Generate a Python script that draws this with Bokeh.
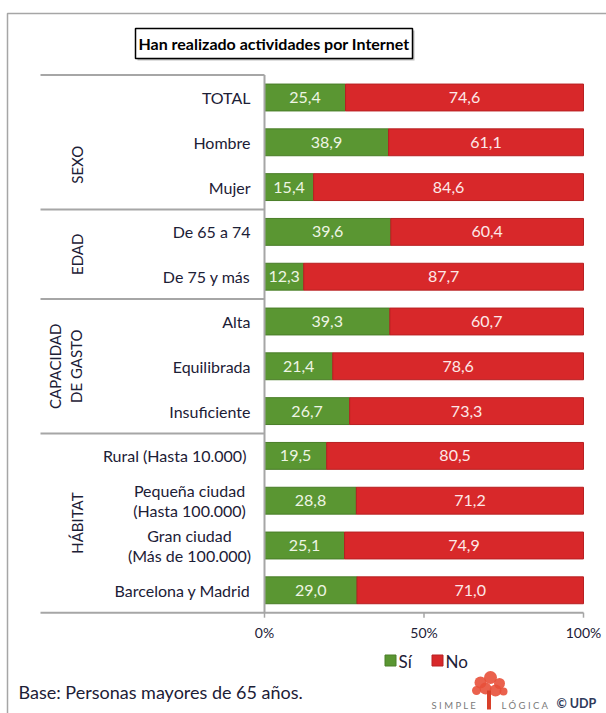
import math
from bokeh.plotting import figure
from bokeh.models import Range1d, ColumnDataSource
from bokeh.core.properties import value
from bokeh.embed import file_html
from bokeh.resources import INLINE

# ---------------- data ----------------
categories = ["TOTAL", "Hombre", "Mujer", "De 65 a 74", "De 75 y más",
              "Alta", "Equilibrada", "Insuficiente",
              "Rural (Hasta  10.000)", "Pequeña ciudad\n(Hasta 100.000)",
              "Gran ciudad\n(Más de 100.000)", "Barcelona y Madrid"]
si = [25.4, 38.9, 15.4, 39.6, 12.3, 39.3, 21.4, 26.7, 19.5, 28.8, 25.1, 29.0]
no = [74.6, 61.1, 84.6, 60.4, 87.7, 60.7, 78.6, 73.3, 80.5, 71.2, 74.9, 71.0]
groups = ["SEXO", "EDAD", "CAPACIDAD\nDE GASTO", "HÁBITAT"]
group_first = [1, 3, 5, 8]
group_last = [2, 4, 7, 11]
series = ["Sí", "No"]
xticks = [0, 50, 100]
xtick_labels = ["0%", "50%", "100%"]
title = "Han realizado actividades por Internet"
footnote = "Base: Personas mayores de 65 años."

# ---------------- layout helpers (pixel -> data) ----------------
W, H = 606, 713
X0PX, X100PX = 264, 583
Y0PX, ROWPX = 97, 44.8
SX = (X100PX - X0PX) / 100.0


def X(px):
    return (px - X0PX) / SX


def Y(py):
    return (py - Y0PX) / ROWPX


FONT = "Lato"
TXT = "#1c2036"
GREEN = "#5a9632"
RED = "#d8282a"
GRAY = "#a6a6a6"

p = figure(width=W, height=H, x_range=Range1d(X(0), X(W)), y_range=Range1d(Y(H), Y(0)),
           output_backend="svg", toolbar_location=None, x_axis_location=None,
           y_axis_location=None, min_border=0, outline_line_color=None, title=None)
p.grid.visible = False
p.background_fill_color = "white"
p.border_fill_color = "white"

# outer frame
p.quad(left=[X(7)], right=[X(640)], top=[Y(13)], bottom=[Y(760)],
       fill_color=None, line_color=GRAY, line_width=1.5)

# title box
p.rect(x=[X(275.5)], y=[Y(45)], width=277, height=30, width_units="screen",
       height_units="screen", fill_color="#bdbdbd", line_color=None)
p.rect(x=[X(273.5)], y=[Y(43)], width=277, height=30, width_units="screen",
       height_units="screen", fill_color="white", line_color="black", line_width=1.5)
p.text(x=[X(273.5)], y=[Y(43)], text=[title], text_align="center", text_baseline="middle",
       text_font=value(FONT), text_font_size="16px", text_font_style="bold", text_color="black")

# ---------------- bars ----------------
idx = list(range(len(categories)))
multi = ["\n" in c for c in categories]
src = ColumnDataSource(dict(
    y=idx, si=si, no=no,
    no_left=si, no_right=[a + b for a, b in zip(si, no)],
    si_mid=[v / 2 for v in si],
    no_mid=[a + b / 2 for a, b in zip(si, no)],
    si_lab=[f"{v:.1f}".replace(".", ",") for v in si],
    no_lab=[f"{v:.1f}".replace(".", ",") for v in no],
    cat=categories,
    lab_x=[X(189) if m else X(250) for m in multi],
    lab_align=["center" if m else "right" for m in multi],
))
BH = 0.6
# shadow
p.hbar(y="y", left=0.4, right="no_right", height=BH, source=src,
       fill_color="#d0d0d0", line_color=None, fill_alpha=0.6)
p.hbar(y="y", left=0, right="si", height=BH, source=src,
       fill_color=GREEN, line_color="#4a7e28", line_width=1)
p.hbar(y="y", left="no_left", right="no_right", height=BH, source=src,
       fill_color=RED, line_color="#b82022", line_width=1)

p.text(x="si_mid", y="y", text="si_lab", source=src, text_align="center",
       text_baseline="middle", text_font=value(FONT), text_font_size="16px",
       text_color="#eef5e4")
p.text(x="no_mid", y="y", text="no_lab", source=src, text_align="center",
       text_baseline="middle", text_font=value(FONT), text_font_size="16px",
       text_color="#fde8e8")

# category labels
p.text(x="lab_x", y="y", text="cat", source=src, text_align="lab_align",
       text_baseline="middle", text_font=value(FONT), text_font_size="16px",
       text_color=TXT, text_line_height=1.05)

# group labels (rotated)
gy = [(a + b) / 2 for a, b in zip(group_first, group_last)]
p.text(x=[X(85)] * len(groups), y=gy, text=groups, angle=math.pi / 2,
       text_align="center", text_baseline="bottom", text_font=value(FONT),
       text_font_size="15px", text_color=TXT, text_line_height=1.2)

# separators
bounds = [-0.5] + [b + 0.5 for b in group_last]
p.segment(x0=[X(40)] * len(bounds[:-1]), x1=[0] * len(bounds[:-1]),
          y0=bounds[:-1], y1=bounds[:-1], line_color=GRAY, line_width=2)
p.segment(x0=[0], x1=[0], y0=[bounds[0]], y1=[bounds[-1]], line_color=GRAY, line_width=2)
# bottom axis
p.segment(x0=[X(40)], x1=[xticks[-1]], y0=[bounds[-1]], y1=[bounds[-1]],
          line_color=GRAY, line_width=2)
p.segment(x0=xticks, x1=xticks, y0=[bounds[-1]] * 3, y1=[bounds[-1] + 5 / ROWPX] * 3,
          line_color=GRAY, line_width=1.5)
p.text(x=xticks, y=[Y(632)] * 3, text=xtick_labels, text_align="center",
       text_baseline="middle", text_font=value(FONT), text_font_size="14px",
       text_color=TXT)

# legend
p.scatter(x=[X(390), X(437)], y=[Y(660)] * 2, marker="square", size=11,
          fill_color=[GREEN, RED], line_color=["#4a7e28", "#b82022"])
p.text(x=[X(398), X(445)], y=[Y(661)] * 2, text=series, text_align="left",
       text_baseline="middle", text_font=value(FONT), text_font_size="17px",
       text_color=TXT)

# footnote
p.text(x=[X(18)], y=[Y(691)], text=[footnote], text_align="left", text_baseline="middle",
       text_font=value(FONT), text_font_size="18px", text_color=TXT)

# logo
p.scatter(x=[X(v) for v in [480, 490, 499, 485, 495, 476, 503]],
          y=[Y(v) for v in [682, 677, 683, 688, 690, 690, 691]],
          marker="circle", size=[12, 13, 11, 12, 12, 9, 8], fill_color="#e8503a",
          line_color=None, fill_alpha=0.9)
p.quad(left=[X(486.5)], right=[X(490.5)], top=[Y(690)], bottom=[Y(709)],
       fill_color="#d8402a", line_color=None)
p.text(x=[X(431), X(501)], y=[Y(705)] * 2, text=["S I M P L E", "L Ó G I C A"],
       text_align="left", text_baseline="middle", text_font=value(FONT),
       text_font_size="9.5px", text_color="#7a7a7a")
p.text(x=[X(556)], y=[Y(703)], text=["© UDP"], text_align="left", text_baseline="middle",
       text_font=value(FONT), text_font_size="12.5px", text_font_style="bold",
       text_color="#303a5a")

open("out.html", "w").write(file_html(p, INLINE))
